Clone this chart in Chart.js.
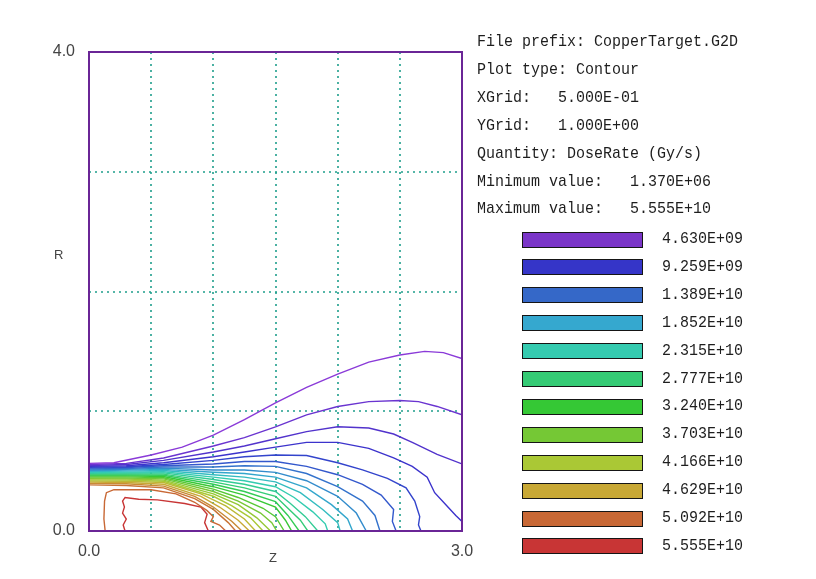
<!DOCTYPE html>
<html><head><meta charset="utf-8">
<script src="https://cdn.jsdelivr.net/npm/chart.js@4.4.1/dist/chart.umd.min.js"></script>
<style>
html,body{margin:0;padding:0;background:#fff;}
#wrap{position:relative;width:816px;height:579px;overflow:hidden;background:#fff;}
#c{position:absolute;left:0;top:0;width:816px;height:579px;}
.info{position:absolute;left:477px;font-family:"Liberation Mono","DejaVu Sans Mono",monospace;font-size:15px;color:#1e1e1e;white-space:pre;line-height:16px;transform:scaleY(1.08);transform-origin:left center;}
.lg{position:absolute;left:522px;width:119px;height:14px;border:1.5px solid #151515;}
.lt{position:absolute;left:662px;font-family:"Liberation Mono","DejaVu Sans Mono",monospace;font-size:15px;color:#1e1e1e;white-space:pre;line-height:16px;transform:scaleY(1.08);transform-origin:left center;}
.ax{position:absolute;font-family:"Liberation Sans",Arial,sans-serif;font-size:13px;color:#444;line-height:14px;}
</style></head><body>
<div id="wrap"><canvas id="c" width="816" height="579"></canvas></div>
<script>
// ---- axis ranges / grid ----
const xMin = 0, xMax = 3, yMin = 0, yMax = 4;
const xGridValues = [0.5, 1.0, 1.5, 2.0, 2.5];
const yGridValues = [1, 2, 3];

// ---- info panel text ----
const infoLines = [
  "File prefix: CopperTarget.G2D",
  "Plot type: Contour",
  "XGrid:   5.000E-01",
  "YGrid:   1.000E+00",
  "Quantity: DoseRate (Gy/s)",
  "Minimum value:   1.370E+06",
  "Maximum value:   5.555E+10"
];

// ---- legend ----
const legendLabels = ["4.630E+09","9.259E+09","1.389E+10","1.852E+10","2.315E+10","2.777E+10",
                      "3.240E+10","3.703E+10","4.166E+10","4.629E+10","5.092E+10","5.555E+10"];
const legendColors = ["#7a35c8","#3535c8","#3568c8","#35a8cf","#35cbb0","#35cb75",
                      "#35c835","#75c835","#aac835","#c8a835","#c86835","#c83535"];

// ---- contour lines (Z, R) ----
const c01 = [[0,0.565],[0.2,0.57],[0.5,0.635],[0.75,0.70],[1.0,0.80],[1.25,0.93],[1.5,1.07],[1.75,1.20],[2.0,1.31],[2.25,1.41],[2.5,1.47],[2.7,1.50],[2.85,1.49],[3.0,1.44]];
const c02 = [[0,0.555],[0.3,0.565],[0.6,0.61],[1.0,0.71],[1.25,0.78],[1.5,0.87],[1.75,0.97],[2.0,1.04],[2.25,1.08],[2.5,1.09],[2.65,1.08],[2.8,1.04],[3.0,0.97]];
const c03 = [[0,0.547],[0.3,0.555],[0.6,0.59],[1.0,0.66],[1.25,0.71],[1.5,0.77],[1.75,0.83],[2.0,0.87],[2.25,0.86],[2.45,0.81],[2.6,0.74],[2.8,0.64],[3.0,0.56]];
const c04 = [[0,0.54],[0.3,0.545],[0.6,0.57],[1.0,0.62],[1.25,0.66],[1.5,0.70],[1.75,0.74],[2.0,0.74],[2.25,0.69],[2.45,0.61],[2.6,0.54],[2.72,0.45],[2.78,0.32],[2.87,0.22],[2.95,0.13],[3.0,0.08]];
const c05 = [[0,0.532],[0.3,0.537],[0.6,0.555],[1.0,0.59],[1.25,0.62],[1.5,0.635],[1.75,0.63],[2.0,0.57],[2.2,0.51],[2.4,0.44],[2.55,0.36],[2.62,0.25],[2.66,0.12],[2.65,0.05],[2.67,0]];
const c06 = [[0,0.525],[0.3,0.53],[0.6,0.545],[1.0,0.56],[1.25,0.58],[1.5,0.58],[1.75,0.54],[2.0,0.47],[2.2,0.39],[2.35,0.30],[2.45,0.18],[2.44,0.08],[2.47,0]];
const c07 = [[0,0.518],[0.3,0.522],[0.6,0.535],[1.0,0.535],[1.25,0.545],[1.5,0.54],[1.75,0.48],[2.0,0.37],[2.2,0.25],[2.3,0.13],[2.34,0]];
const c08 = [[0,0.51],[0.3,0.515],[0.6,0.525],[1.0,0.51],[1.25,0.51],[1.5,0.49],[1.75,0.42],[2.0,0.29],[2.15,0.15],[2.23,0]];
const c09 = [[0,0.503],[0.3,0.508],[0.6,0.515],[1.0,0.49],[1.25,0.48],[1.5,0.45],[1.75,0.36],[1.95,0.22],[2.08,0.10],[2.12,0]];
const c10 = [[0,0.496],[0.3,0.50],[0.6,0.505],[1.0,0.47],[1.25,0.45],[1.5,0.41],[1.7,0.32],[1.88,0.18],[2.0,0.07],[2.02,0]];
const c11 = [[0,0.489],[0.3,0.492],[0.6,0.495],[1.0,0.45],[1.25,0.42],[1.5,0.37],[1.65,0.28],[1.8,0.16],[1.9,0.06],[1.92,0]];
const c12 = [[0,0.482],[0.3,0.484],[0.6,0.485],[1.0,0.43],[1.25,0.39],[1.5,0.33],[1.62,0.23],[1.74,0.12],[1.84,0]];
const c13 = [[0,0.475],[0.3,0.476],[0.6,0.475],[1.0,0.41],[1.25,0.36],[1.5,0.29],[1.6,0.19],[1.7,0.09],[1.76,0]];
const c14 = [[0,0.468],[0.3,0.468],[0.6,0.465],[1.0,0.39],[1.25,0.33],[1.5,0.245],[1.6,0.13],[1.69,0]];
const c15 = [[0,0.46],[0.3,0.46],[0.6,0.455],[1.0,0.37],[1.25,0.30],[1.5,0.20],[1.58,0.09],[1.63,0]];
const c16 = [[0,0.452],[0.3,0.452],[0.6,0.445],[1.0,0.35],[1.2,0.28],[1.4,0.19],[1.5,0.12],[1.57,0]];
const c17 = [[0,0.444],[0.3,0.443],[0.6,0.435],[1.0,0.33],[1.2,0.25],[1.38,0.15],[1.47,0.07],[1.51,0]];
const c18 = [[0,0.436],[0.3,0.434],[0.6,0.425],[1.0,0.31],[1.2,0.22],[1.35,0.11],[1.46,0]];
const c19 = [[0,0.427],[0.3,0.425],[0.6,0.415],[1.0,0.29],[1.15,0.21],[1.3,0.11],[1.4,0]];
const c20 = [[0,0.418],[0.3,0.415],[0.6,0.405],[0.9,0.31],[1.1,0.21],[1.25,0.10],[1.34,0]];
const c21 = [[0,0.408],[0.3,0.405],[0.6,0.39],[0.9,0.29],[1.05,0.20],[1.2,0.09],[1.29,0]];
const c22 = [[0,0.398],[0.3,0.395],[0.6,0.375],[0.85,0.29],[1.0,0.20],[1.15,0.08],[1.23,0]];
const c23 = [[0,0.385],[0.3,0.38],[0.6,0.36],[0.85,0.27],[1.0,0.18],[1.12,0.07],[1.18,0]];
const c24 = [[0.13,0],[0.12,0.10],[0.125,0.25],[0.14,0.32],[0.2,0.345],[0.5,0.345],[0.7,0.31],[0.85,0.24],[0.95,0.17],[1.0,0.12],[0.98,0.08],[1.05,0.05],[1.1,0]];
const c25 = [[0.29,0],[0.275,0.05],[0.30,0.10],[0.27,0.15],[0.285,0.20],[0.27,0.25],[0.29,0.28],[0.4,0.265],[0.55,0.26],[0.77,0.23],[0.9,0.20],[0.95,0.14],[0.93,0.07],[0.96,0]];

const contours = [c01,c02,c03,c04,c05,c06,c07,c08,c09,c10,c11,c12,c13,c14,c15,c16,c17,c18,c19,c20,c21,c22,c23,c24,c25];
const contourColors = ["#8a3ad8","#6a34d0","#5233cc","#3c33cc","#3344cc","#3358cc","#3372cc","#338ccc","#33a6cc","#33bcc0",
                       "#33ccb0","#33cc95","#33cc77","#33cc55","#38c835","#58c835","#77c835","#95c835","#aac835","#bcb835",
                       "#c8a835","#c88a35","#c87435","#c86835","#c83535"];

// ---- HTML text ----
const wrap = document.getElementById('wrap');
const infoCenters0 = 43, infoStep = 27.9;
infoLines.forEach((t,i)=>{
  const d=document.createElement('div'); d.className='info'; d.textContent=t;
  d.style.top=(infoCenters0+i*infoStep-8)+'px'; wrap.appendChild(d);
});
const lgCenter0 = 240, lgStep = 27.9;
legendLabels.forEach((t,i)=>{
  const b=document.createElement('div'); b.className='lg'; b.style.background=legendColors[i];
  b.style.top=(lgCenter0+i*lgStep-8.5)+'px'; wrap.appendChild(b);
  const l=document.createElement('div'); l.className='lt'; l.textContent=t;
  l.style.top=(lgCenter0+i*lgStep-8)+'px'; wrap.appendChild(l);
});
const axR=document.createElement('div'); axR.className='ax'; axR.textContent='R'; axR.style.left='54px'; axR.style.top='248px'; wrap.appendChild(axR);
const axZ=document.createElement('div'); axZ.className='ax'; axZ.textContent='Z'; axZ.style.left='269px'; axZ.style.top='551px'; wrap.appendChild(axZ);

// ---- plugin: dotted grid + frame ----
const gridFrame = {
  id:'gridFrame',
  beforeDatasetsDraw(chart){
    const {ctx, chartArea:a, scales:{x,y}} = chart;
    ctx.save();
    ctx.strokeStyle='#1f9e8c'; ctx.lineWidth=1.6; ctx.setLineDash([2,4]);
    xGridValues.forEach(v=>{const p=Math.round(x.getPixelForValue(v)); ctx.beginPath(); ctx.moveTo(p,a.top); ctx.lineTo(p,a.bottom); ctx.stroke();});
    yGridValues.forEach(v=>{const p=Math.round(y.getPixelForValue(v)); ctx.beginPath(); ctx.moveTo(a.left,p); ctx.lineTo(a.right,p); ctx.stroke();});
    ctx.restore();
  },
  afterDatasetsDraw(chart){
    const {ctx, chartArea:a} = chart;
    ctx.save();
    ctx.strokeStyle='#6a2596'; ctx.lineWidth=2; ctx.setLineDash([]);
    ctx.strokeRect(a.left, a.top, a.right-a.left, a.bottom-a.top);
    ctx.restore();
  }
};

new Chart(document.getElementById('c'), {
  type:'scatter',
  data:{ datasets: contours.map((c,i)=>({
    data: c.map(p=>({x:p[0], y:p[1]})),
    showLine:true, borderColor:contourColors[i], borderWidth:1.4,
    pointRadius:0, tension:0, fill:false
  }))},
  options:{
    responsive:false, animation:false, devicePixelRatio:1,
    layout:{padding:{left:0,right:354,top:52,bottom:18}},
    plugins:{legend:{display:false}, tooltip:{enabled:false}},
    scales:{
      x:{type:'linear', min:xMin, max:xMax,
         afterFit:s=>{s.height=30;},
         grid:{display:false}, border:{display:false},
         ticks:{stepSize:xMax-xMin, maxRotation:0, autoSkip:false, padding:3,
                color:'#444', font:{family:'"Liberation Sans", Arial, sans-serif', size:16},
                callback:v=>Number(v).toFixed(1)}},
      y:{type:'linear', min:yMin, max:yMax,
         afterFit:s=>{s.width=89;},
         grid:{display:false}, border:{display:false},
         ticks:{stepSize:yMax-yMin, autoSkip:false, padding:6,
                color:'#444', font:{family:'"Liberation Sans", Arial, sans-serif', size:16},
                callback:v=>Number(v).toFixed(1)}}
    }
  },
  plugins:[gridFrame]
});
</script>
</body></html>
